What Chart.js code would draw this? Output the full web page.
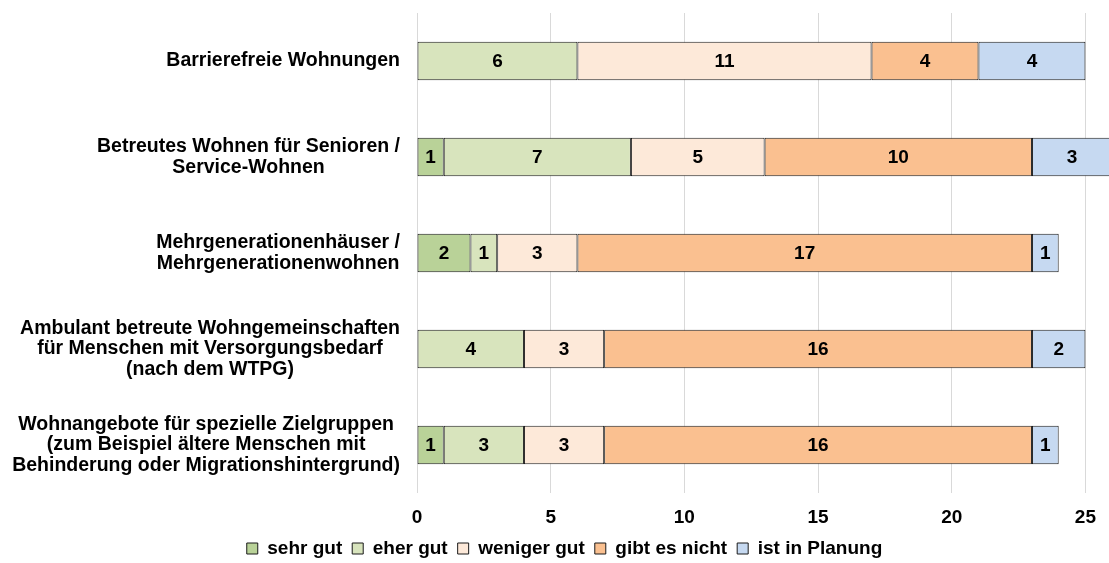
<!DOCTYPE html>
<html>
<head>
<meta charset="utf-8">
<script src="https://cdn.jsdelivr.net/npm/chart.js@4/dist/chart.umd.min.js"></script>
<style>
    html, body { margin: 0; padding: 0; background: #fff; }
    #wrap { width: 1109px; height: 563px; }
</style>
</head>
<body>
<div id="wrap"><canvas id="myChart"></canvas></div>
<script>
// Wohnangebote - Bewertung (Anzahl Nennungen)
const categories = [
    'Barrierefreie Wohnungen',
    ['Betreutes Wohnen für Senioren /', 'Service-Wohnen'],
    ['Mehrgenerationenhäuser /', 'Mehrgenerationenwohnen'],
    ['Ambulant betreute Wohngemeinschaften', 'für Menschen mit Versorgungsbedarf', '(nach dem WTPG)'],
    ['Wohnangebote für spezielle Zielgruppen', '(zum Beispiel ältere Menschen mit', 'Behinderung oder Migrationshintergrund)']
];
const seriesNames = ['sehr gut', 'eher gut', 'weniger gut', 'gibt es nicht', 'ist in Planung'];
const sehrGut = [0, 1, 2, 0, 1];
const eherGut = [6, 7, 1, 4, 3];
const wenigerGut = [11, 5, 3, 3, 3];
const gibtEsNicht = [4, 10, 17, 16, 16];
const inPlanung = [4, 3, 1, 2, 1];
const xTicks = [0, 5, 10, 15, 20, 25];

const colors = ['#b9d298', '#d8e4bd', '#fde9d9', '#fac090', '#c6d9f1'];
const seriesValues = [sehrGut, eherGut, wenigerGut, gibtEsNicht, inPlanung];

const FONT = '"Liberation Sans", Arial, sans-serif';
Chart.defaults.font.family = FONT;
Chart.defaults.font.weight = 'bold';
Chart.defaults.font.size = 19;
Chart.defaults.color = '#000';

// Werte mittig in die Balken schreiben
const barLabels = {
    id: 'barLabels',
    afterDatasetsDraw(chart) {
        const ctx = chart.ctx;
        ctx.save();
        ctx.font = 'bold 19px ' + FONT;
        ctx.fillStyle = '#000';
        ctx.textAlign = 'center';
        ctx.textBaseline = 'middle';
        chart.data.datasets.forEach((ds, i) => {
            chart.getDatasetMeta(i).data.forEach((bar, j) => {
                let v = ds.data[j];
                if (!v) return;
                let p = bar.getProps(['x', 'y', 'base'], true);
                ctx.fillText(String(v), (p.x + p.base) / 2, p.y + 1);
            });
        });
        ctx.restore();
    }
};

// Kategorien: Block rechtsbuendig, Zeilen im Block zentriert (wie Excel)
const catLabels = {
    id: 'catLabels',
    afterDraw(chart) {
        const ctx = chart.ctx;
        const yScale = chart.scales.y;
        const right = chart.chartArea.left - 17;
        const lh = 20.5;
        ctx.save();
        ctx.font = 'bold 19.5px ' + FONT;
        ctx.fillStyle = '#000';
        ctx.textAlign = 'center';
        ctx.textBaseline = 'middle';
        categories.forEach((lbl, i) => {
            let lines = Array.isArray(lbl) ? lbl : [lbl];
            let w = Math.max(...lines.map(l => ctx.measureText(l).width));
            let cx = right - w / 2;
            let cy = yScale.getPixelForTick(i);
            let y0 = cy - (lines.length - 1) * lh / 2;
            lines.forEach((l, k) => ctx.fillText(l, cx, y0 + k * lh));
        });
        ctx.restore();
    }
};

function drawChart() {
    const ctx = document.getElementById('myChart');
    let datasets = [];
    for (let i = 0; i < seriesNames.length; i++) {
        datasets.push({
            label: seriesNames[i],
            data: seriesValues[i],
            backgroundColor: colors[i],
            borderColor: '#1a1a1a',
            borderWidth: 1,
            borderSkipped: false,
            categoryPercentage: 0.8,
            barPercentage: 0.5,
            clip: false
        });
    }
    new Chart(ctx, {
        type: 'bar',
        data: {
            labels: categories,
            datasets: datasets
        },
        plugins: [barLabels, catLabels],
        options: {
            indexAxis: 'y',
            responsive: true,
            maintainAspectRatio: false,
            animation: false,
            layout: {
                padding: {top: 13, right: 20, left: 40, bottom: -5}
            },
            plugins: {
                legend: {
                    position: 'bottom',
                    labels: {
                        boxWidth: 11,
                        boxHeight: 11,
                        padding: 10,
                        font: {size: 19, weight: 'bold'}
                    }
                },
                tooltip: {enabled: false}
            },
            scales: {
                x: {
                    stacked: true,
                    min: 0,
                    max: 25,
                    afterBuildTicks: scale => {
                        scale.ticks = xTicks.map(v => ({value: v}));
                    },
                    grid: {
                        color: '#d9d9d9',
                        drawTicks: false
                    },
                    border: {display: false},
                    ticks: {padding: 13},
                    afterFit: scale => {
                        scale.height = 36;
                    }
                },
                y: {
                    stacked: true,
                    grid: {display: false},
                    border: {display: false},
                    ticks: {display: false},
                    afterFit: scale => {
                        scale.width = 377;
                        scale.paddingTop = 0;
                        scale.paddingBottom = 0;
                    }
                }
            }
        }
    });
}

window.addEventListener('load', evt => drawChart());
</script>
</body>
</html>
